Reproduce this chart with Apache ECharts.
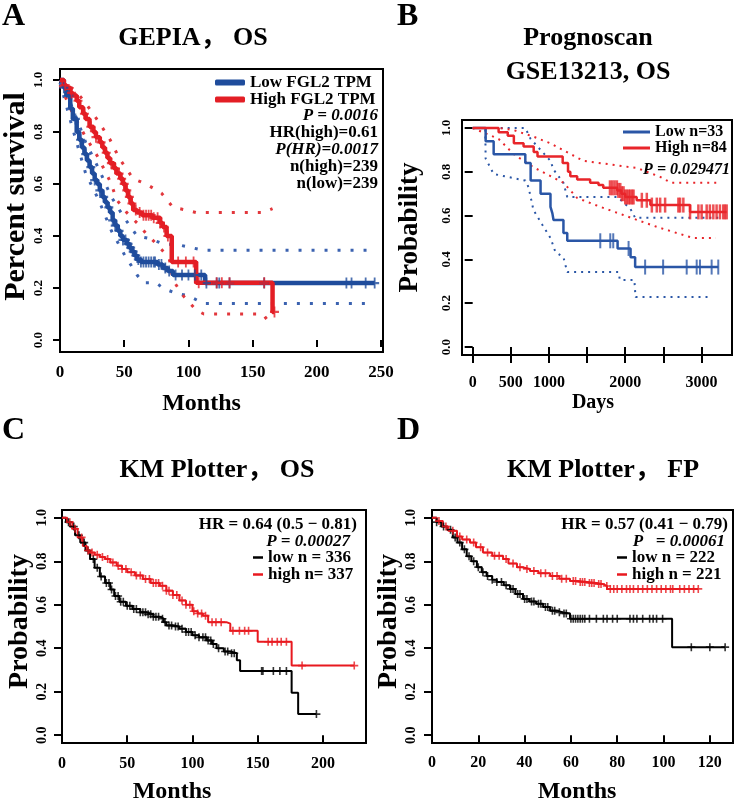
<!DOCTYPE html>
<html><head><meta charset="utf-8">
<script src="https://cdn.jsdelivr.net/npm/echarts@6/dist/echarts.min.js"></script>
<style>html,body{margin:0;padding:0;background:#fff}#c{width:738px;height:805px}</style>
</head><body><div id="c"></div>
<script>
const FONT = "'Liberation Serif','Noto Sans CJK SC','Times New Roman',serif";

// ---------- Panel A : GEPIA, OS (months) ----------
const aLowT = [0,3,5,8,10,13,15,17,19,21,23,25,27,29,31,33,35,37,39,41,43,45,47,49,52,54,56,58,60,63,76,80,84,88,113];
const aLowS = [1,0.97,0.94,0.89,0.85,0.80,0.77,0.74,0.715,0.69,0.665,0.64,0.615,0.60,0.575,0.55,0.53,0.51,0.49,0.46,0.44,0.42,0.40,0.385,0.37,0.355,0.34,0.325,0.31,0.30,0.29,0.277,0.265,0.25,0.219];
const aLowEnd = 245;
const aHighT = [0,3,5,8,10,13,15,18,20,23,26,28,31,33,35,37,39,42,44,47,49,51,53,55,57,60,64,72,78,80,83,87,106,165.5];
const aHighS = [1,0.98,0.97,0.95,0.94,0.92,0.895,0.87,0.85,0.82,0.80,0.78,0.76,0.74,0.72,0.70,0.68,0.66,0.64,0.62,0.60,0.575,0.55,0.525,0.50,0.49,0.48,0.47,0.45,0.435,0.40,0.30,0.22,0.108];
const aHighEnd = 167;
const aLowCens = [3,7,12,16,20,24,27,31,34,38,41,43,46,49,51,53,55,57,59,61,63,65,67,69,71,73,74,77,79,82,85,90,95,100,105,110,114,122,124,132,159,223,227,238,245];
const aHighCens = [4,9,14,19,24,28,32,36,40,43,46,48,50,52,54,56,59,62,65,67,69,71,73,76,78,81,84,92,98,104,108,122,126,132,159,167];
const aLowUpT = [0,10,20,30,40,50,60,70,80,93,112,245];
const aLowUpS = [1,0.89,0.76,0.66,0.55,0.47,0.40,0.39,0.37,0.365,0.345,0.345];
const aLowLoT = [0,10,20,30,40,50,60,65,75,80,90,100,112,245];
const aLowLoS = [0.99,0.81,0.64,0.54,0.42,0.33,0.25,0.22,0.22,0.20,0.18,0.17,0.14,0.14];
const aHighUpT = [0,12,20,30,39,46,57,67,79,88,98,106,158,165.5];
const aHighUpS = [1,0.96,0.91,0.84,0.77,0.70,0.62,0.60,0.565,0.51,0.50,0.49,0.49,0.505];
const aHighLoT = [0,10,20,30,40,44,52,60,67,75,85,88,96,106,112,158,165.5];
const aHighLoS = [0.98,0.87,0.78,0.70,0.60,0.54,0.49,0.45,0.41,0.37,0.315,0.23,0.17,0.115,0.10,0.10,0.05];
const aXTicks = [0,50,100,150,200,250];

// ---------- Panel B : Prognoscan GSE13213, OS (days) ----------
const bLowT = [0,170,275,690,760,890,1020,1045,1060,1190,1240,1900,2070,2130];
const bLowS = [1,0.94,0.88,0.84,0.76,0.70,0.64,0.61,0.58,0.52,0.485,0.45,0.41,0.365];
const bLowEnd = 3220;
const bHighT = [0,340,460,540,667,800,850,1180,1250,1280,1370,1540,1650,1712,1895,1950,2000,2150,2330,2850];
const bHighS = [1,0.98,0.965,0.93,0.915,0.89,0.87,0.84,0.80,0.78,0.765,0.75,0.74,0.727,0.715,0.70,0.685,0.67,0.648,0.617];
const bHighEnd = 3330;
const bLowCens = [1673,1804,1843,2044,2261,2497,2806,2937,2980,3133,3220];
const bHighCens = [1800,1830,1860,1891,1910,1935,1955,1978,2000,2022,2045,2065,2090,2109,2218,2283,2349,2414,2458,2523,2697,2719,2762,2850,2959,3002,3068,3110,3155,3198,3242,3285,3307,3330];
const bLowUpT = [0,690,760,890,1020,1060,1190,1240,1900,2070,2130,3220];
const bLowUpS = [1,1,0.95,0.90,0.85,0.81,0.75,0.685,0.685,0.63,0.59,0.59];
const bLowLoT = [0,165,170,275,690,732,797,915,1020,1085,1190,1240,1912,1930,2120,2135,3110];
const bLowLoS = [1,1,0.86,0.79,0.76,0.73,0.625,0.557,0.498,0.434,0.41,0.342,0.342,0.306,0.306,0.228,0.228];
const bHighUpT = [0,340,540,800,1020,1180,1450,2157,2457,2600,3250];
const bHighUpS = [1,1,0.99,0.96,0.93,0.90,0.85,0.817,0.777,0.75,0.75];
const bHighLoT = [0,340,540,800,1190,1372,1673,1974,2157,2418,2889,3190];
const bHighLoS = [1,0.95,0.88,0.82,0.75,0.68,0.64,0.603,0.58,0.548,0.498,0.498];
const bXTicks = [0,500,1000,1500,2000,2500,3000];
const bXLabels = [0,500,1000,2000,3000];

// ---------- Panel C : KM Plotter, OS (months) ----------
const cLowT = [0,3,6,10,14,18,21.5,25,29,33,37,40,44,49,54,60,65,70,75,78,80,85,90,95,100,105,111,115,118.5,124,129,134,136.5,176,181];
const cLowS = [1,0.98,0.96,0.92,0.886,0.85,0.81,0.77,0.73,0.70,0.67,0.64,0.614,0.595,0.58,0.565,0.556,0.545,0.536,0.52,0.505,0.50,0.49,0.475,0.46,0.45,0.436,0.42,0.40,0.385,0.377,0.345,0.295,0.195,0.097];
const cLowEnd = 195;
const cHighT = [0,4,8,12,16,19,21.5,25,29,33,37,42,46,50,56,62,68,75,80,85,90,95,100,104,108,112,126,129,150,176];
const cHighS = [1,0.98,0.95,0.91,0.87,0.85,0.84,0.83,0.82,0.81,0.795,0.78,0.765,0.75,0.735,0.718,0.70,0.687,0.665,0.645,0.62,0.60,0.57,0.56,0.55,0.52,0.513,0.48,0.43,0.32];
const cHighEnd = 224;
const cLowCens = [5,9,13,17,20,24,27,30,34,36,38,41,43,45,47,50,52,55,57,60,62,64,66,68,70,72,74,77,79,82,84,87,89,92,95,97,99,102,105,108,110,112,114,116,120,125,127,130,132,153,154,162,167,172,195];
const cHighCens = [6,10,15,20,23,27,31,35,39,43,46,49,53,57,60,64,67,70,72,74,77,80,82,85,88,92,95,98,101,104,107,110,115,118,122,131,136,140,143,158,161,165,168,172,184,224];
const cXTicks = [0,50,100,150,200];

// ---------- Panel D : KM Plotter, FP (months) ----------
const dLowT = [0,2,4,6.6,9,11,13,15,17,19.4,21.5,23.6,26,28,31,33.7,36,39.3,42,45,48,51,54,56.6,59.6,103.7];
const dLowS = [1,0.98,0.96,0.945,0.91,0.886,0.855,0.823,0.80,0.773,0.75,0.732,0.715,0.705,0.69,0.673,0.65,0.627,0.615,0.605,0.59,0.573,0.565,0.56,0.536,0.405];
const dLowEnd = 126.6;
const dHighT = [0,2,4.7,7,10.8,13,16.4,19,22,26,30.7,33,36.7,39,42.3,46,51,55,59.6,63,67,71,74,75.6];
const dHighS = [1,0.985,0.96,0.94,0.914,0.90,0.886,0.865,0.84,0.825,0.81,0.79,0.773,0.765,0.755,0.745,0.732,0.72,0.709,0.705,0.70,0.695,0.686,0.673];
const dHighEnd = 115;
const dLowCens = [2,5,8,10,12,14,16,18,20,22,24,26,28,30,32,34,35,37,38,40,41,43,44,46,47,49,50,52,53,55,57,58,60,61,62,63,64,65,66,68,71,74,75.6,78,80,85.5,87,88.5,91,94,95.5,97,99.6,112,120,126.6];
const dHighCens = [3,6,9,12,15,18,21,24,27,29,32,35,38,41,44,47,49,52,54,56,58,61,62,64,65,66,68,69,70,72,73,75.5,77,78.5,80,82,84,85.5,87,89,91,93,95,97,99,101,103,104,107,109,111,113,115];
const dXTicks = [0,20,40,60,80,100,120];

const yTicks = [0,0.2,0.4,0.6,0.8,1.0];

// ---------- helpers ----------
function stepData(T, S, tEnd){ const d = T.map((t,i)=>[t,S[i]]); d.push([tEnd, S[S.length-1]]); return d; }
function pairs(T, S){ return T.map((t,i)=>[t,S[i]]); }
function survAt(T,S,t){ let v=S[0]; for(let i=0;i<T.length;i++){ if(T[i]<=t) v=S[i]; } return v; }
function cens(T,S,C){ return C.map(t=>[t, survAt(T,S,t)]); }
const PLUS = 'path://M-1,-5H1V-1H5V1H1V5H-1V1H-5V-1H-1Z';

function kmLine(name, gi, T, S, end, color, width){
  return {type:'line', name, xAxisIndex:gi, yAxisIndex:gi, step:'end', data:stepData(T,S,end),
    color, showSymbol:false, symbol:'none', lineStyle:{color, width}, silent:true, z:3};
}
function ciLine(gi, T, S, color, width, dash){
  return {type:'line', name:'ci', xAxisIndex:gi, yAxisIndex:gi, data:pairs(T,S), showSymbol:false, symbol:'none',
    lineStyle:{color, width, type:dash}, silent:true, z:2};
}
function censor(gi, T, S, C, color, symbol, size){
  return {type:'scatter', name:'censor', xAxisIndex:gi, yAxisIndex:gi, data:cens(T,S,C), symbol, symbolSize:size,
    itemStyle:{color}, silent:true, z:4};
}
function yAx(gi, min, max, tickLen, margin, lsize, name, gap, nsize, pad){
  return {gridIndex:gi, type:'value', min, max, axisLine:{show:false}, splitLine:{show:false},
    axisTick:{show:true, length:tickLen, lineStyle:{color:'#000', width:2}, customValues:yTicks},
    axisLabel:{customValues:yTicks, rotate:90, margin, fontFamily:FONT, fontWeight:'bold', fontSize:lsize, color:'#000',
      formatter:v=>v.toFixed(1)},
    name, nameLocation:'middle', nameGap:gap,
    nameTextStyle:{fontFamily:FONT, fontWeight:'bold', fontSize:nsize, lineHeight:nsize, color:'#000', padding:pad}};
}
function xAx(gi, min, max, ticks, labels, tickLen, margin, lsize, name, gap, nsize, pad){
  return {gridIndex:gi, type:'value', min, max, axisLine:{show:false}, splitLine:{show:false},
    axisTick:{show:true, length:tickLen, lineStyle:{color:'#000', width:2}, customValues:ticks},
    axisLabel:{customValues:labels, margin, fontFamily:FONT, fontWeight:'bold', fontSize:lsize, color:'#000',
      formatter:v=>String(v)},
    name, nameLocation:'middle', nameGap:gap,
    nameTextStyle:{fontFamily:FONT, fontWeight:'bold', fontSize:nsize, lineHeight:nsize, color:'#000', padding:pad}};
}
function ttl(text, left, top, size, align, lh){
  return {text, left, top, padding:0, textAlign:align, textVerticalAlign:'top',
    textStyle:{fontFamily:FONT, fontWeight:'bold', fontSize:size, lineHeight:lh||size, color:'#000'}};
}
function note(text, x, y, size, italic){
  return {type:'text', x, y, silent:true, style:{text, fontFamily:FONT, fontWeight:'bold', fontStyle:italic?'italic':'normal',
    fontSize:size, fill:'#000', align:'right', verticalAlign:'middle'}};
}
function lg(data, left, top, w, h, icon, size, lh){
  return {data, left, top, orient:'vertical', itemWidth:w, itemHeight:h, itemGap:0, icon, padding:0, selectedMode:false,
    textStyle:{fontFamily:FONT, fontWeight:'bold', fontSize:size, lineHeight:lh, color:'#000'}};
}

const A_BLUE='#1f4c9c', A_RED='#e31e25', A_BDOT='#3b62b0', A_RDOT='#e2373c';
const B_BLUE='#2a56a6', B_RED='#e8252a';
const C_RED='#e8191f';

const gridStyle = {show:true, borderColor:'#000', borderWidth:2, backgroundColor:'transparent'};

const option = {
  animation:false,
  backgroundColor:'#fff',
  title:[
    ttl('A', 2, 1, 32, 'left'),
    ttl('GEPIA， OS', 193, 25, 26, 'center'),
    ttl('B', 397, 1, 32, 'left'),
    ttl('Prognoscan\nGSE13213, OS', 588, 21, 26, 'center', 34),
    ttl('C', 2, 415, 32, 'left'),
    ttl('KM Plotter， OS', 217, 457, 26, 'center'),
    ttl('D', 397, 415, 32, 'left'),
    ttl('KM Plotter， FP', 603, 457, 26, 'center')
  ],
  legend:[
    lg(['Low FGL2 TPM','High FGL2 TPM'], 215, 74, 30, 6, 'roundRect', 17, 16),
    lg(['Low n=33','High n=84'], 623, 124, 27, 3, 'rect', 16, 16),
    lg(['low n = 336','high n= 337'], 253, 549, 10, 2.5, 'rect', 17, 15),
    lg(['low n = 222','high n = 221'], 617, 549, 10, 2.5, 'rect', 17, 15)
  ],
  grid:[
    Object.assign({left:60, top:69, width:323, height:283}, gridStyle),
    Object.assign({left:462, top:120, width:270, height:235}, gridStyle),
    Object.assign({left:62, top:510, width:304, height:236}, gridStyle),
    Object.assign({left:432, top:510, width:301, height:236}, gridStyle)
  ],
  xAxis:[
    xAx(0, 0, 251.5, aXTicks, aXTicks, 7, 12, 17, 'Months', 40, 24, [0,40,0,0]),
    xAx(1, -140, 3400, bXTicks, bXLabels, 16, 20, 16, 'Days', 38, 20, [0,8,0,0]),
    xAx(2, 0, 233, cXTicks, cXTicks, 7, 13, 16, 'Months', 37, 24, [0,84,0,0]),
    xAx(3, 0, 130, dXTicks, dXTicks, 7, 12, 16, 'Months', 37, 24, [0,11,0,0])
  ],
  yAxis:[
    yAx(0, -0.046, 1.042, 7, 15, 13, 'Percent survival', 28, 30, [0,0,0,28]),
    yAx(1, -0.0365, 1.0365, 8, 9, 13, 'Probability', 38, 27, [0,0,0,20]),
    yAx(2, -0.036, 1.036, 8, 13, 14, 'Probability', 26, 28, [0,0,0,10]),
    yAx(3, -0.036, 1.036, 8, 14, 14, 'Probability', 25, 28, [0,0,0,10])
  ],
  graphic:[
    note('P = 0.0016', 378, 116, 17, true),
    note('HR(high)=0.61', 378, 133, 17, false),
    note('P(HR)=0.0017', 378, 150, 17, true),
    note('n(high)=239', 378, 167, 17, false),
    note('n(low)=239', 378, 184, 17, false),
    note('P = 0.029471', 730, 170, 16, true),
    note('HR = 0.64 (0.5 \u2212 0.81)', 357, 525, 17, false),
    note('P = 0.00027', 350, 542, 17, true),
    note('HR = 0.57 (0.41 \u2212 0.79)', 728, 525, 17, false),
    note('P   = 0.00061', 725, 542, 17, true)
  ],
  series:[
    // A
    ciLine(0, aLowUpT, aLowUpS, A_BDOT, 3, [3,10]),
    ciLine(0, aLowLoT, aLowLoS, A_BDOT, 3, [3,10]),
    ciLine(0, aHighUpT, aHighUpS, A_RDOT, 3, [3,10]),
    ciLine(0, aHighLoT, aHighLoS, A_RDOT, 3, [3,10]),
    kmLine('Low FGL2 TPM', 0, aLowT, aLowS, aLowEnd, A_BLUE, 4.5),
    censor(0, aLowT, aLowS, aLowCens, A_BLUE, PLUS, [9,11]),
    kmLine('High FGL2 TPM', 0, aHighT, aHighS, aHighEnd, A_RED, 4.5),
    censor(0, aHighT, aHighS, aHighCens, A_RED, PLUS, [9,11]),
    // B
    ciLine(1, bLowUpT, bLowUpS, B_BLUE, 2, [2,5]),
    ciLine(1, bLowLoT, bLowLoS, B_BLUE, 2, [2,5]),
    ciLine(1, bHighUpT, bHighUpS, B_RED, 2, [2,5]),
    ciLine(1, bHighLoT, bHighLoS, B_RED, 2, [2,5]),
    kmLine('Low n=33', 1, bLowT, bLowS, bLowEnd, B_BLUE, 2.5),
    censor(1, bLowT, bLowS, bLowCens, B_BLUE, 'rect', [2,15]),
    kmLine('High n=84', 1, bHighT, bHighS, bHighEnd, B_RED, 2.5),
    censor(1, bHighT, bHighS, bHighCens, B_RED, 'rect', [2.5,15]),
    // C
    kmLine('low n = 336', 2, cLowT, cLowS, cLowEnd, '#000', 2),
    censor(2, cLowT, cLowS, cLowCens, '#000', PLUS, [8,8]),
    kmLine('high n= 337', 2, cHighT, cHighS, cHighEnd, C_RED, 2),
    censor(2, cHighT, cHighS, cHighCens, C_RED, PLUS, [8,8]),
    // D
    kmLine('low n = 222', 3, dLowT, dLowS, dLowEnd, '#000', 2),
    censor(3, dLowT, dLowS, dLowCens, '#000', PLUS, [8,8]),
    kmLine('high n = 221', 3, dHighT, dHighS, dHighEnd, C_RED, 2),
    censor(3, dHighT, dHighS, dHighCens, C_RED, PLUS, [8,8])
  ]
};
const chart = echarts.init(document.getElementById('c'), null, {renderer:'canvas'});
chart.setOption(option);
</script></body></html>
